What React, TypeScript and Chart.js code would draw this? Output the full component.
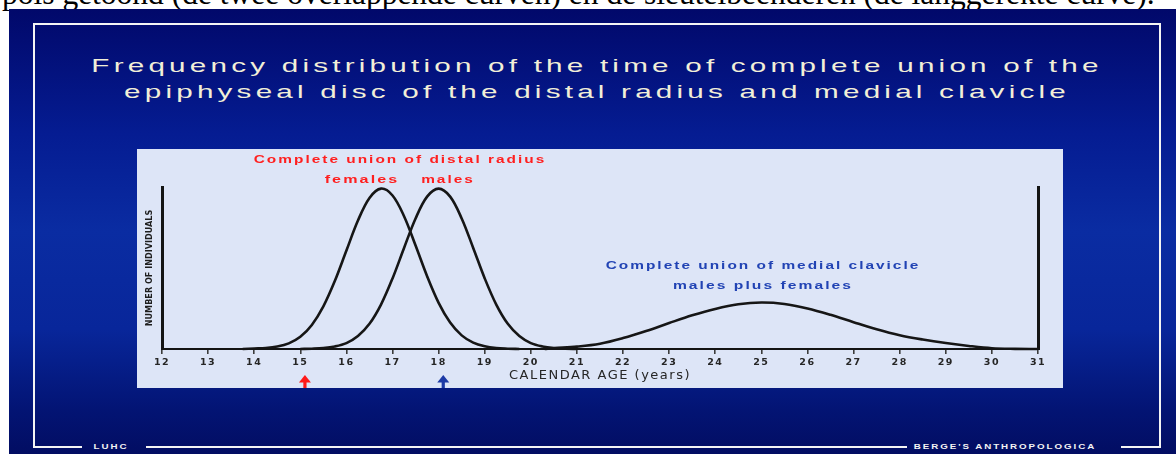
import React, { useEffect, useRef } from 'react';
import { Chart, registerables } from 'chart.js';

Chart.register(...registerables);

// ---- data ----
const femaleAges = [13.75, 14, 14.25, 14.5, 14.75, 15, 15.25, 15.5, 15.75, 16, 16.25, 16.5, 16.75, 17, 17.25, 17.5, 17.75, 18, 18.25, 18.5, 18.75, 19, 19.25, 19.5, 19.75];
const femaleCounts = [0, 0.3, 0.6, 1.5, 3.5, 7.6, 15.0, 26.6, 42.5, 61.4, 80.1, 94.2, 100, 95.7, 82.8, 64.5, 45.4, 28.8, 16.5, 8.5, 4.0, 1.7, 0.6, 0.2, 0];

const maleAges = [15, 15.25, 15.5, 15.75, 16, 16.25, 16.5, 16.75, 17, 17.25, 17.5, 17.75, 18, 18.25, 18.5, 18.75, 19, 19.25, 19.5, 19.75, 20, 20.25, 20.5, 20.75, 21];
const maleCounts = [0, 0.2, 0.6, 1.6, 3.7, 8.1, 15.7, 27.7, 44.0, 63.0, 81.4, 95.0, 100, 95.0, 81.4, 63.0, 44.0, 27.7, 15.7, 8.1, 3.7, 1.6, 0.6, 0.2, 0];

const clavicleAges = [20.3, 20.5, 21, 21.5, 22, 22.5, 23, 23.5, 24, 24.5, 25, 25.5, 26, 26.5, 27, 27.5, 28, 28.5, 29, 29.5, 30, 30.5, 31];
const clavicleCounts = [0, 0.5, 1.5, 3.3, 6.8, 11.2, 16.2, 21.0, 25.0, 27.9, 29.0, 28.1, 25.3, 21.3, 16.7, 12.3, 8.6, 5.9, 3.7, 1.9, 0.5, 0.1, 0];

const ageMin = 12;
const ageMax = 31;
const ageStep = 1;

const arrowAges = [15.1, 18.1];
const arrowColors = ['#ff1a1a', '#1d3aa6'];

const pageText = 'pols getoond (de twee overlappende curven) en de sleutelbeenderen (de langgerekte curve).';
const titleLines = [
  'Frequency distribution of the time of complete union of the',
  'epiphyseal disc of the distal radius and medial clavicle',
];
const xTitle = 'CALENDAR AGE (years)';
const yTitle = 'NUMBER OF INDIVIDUALS';
const radiusNote = 'Complete union of distal radius';
const femalesNote = 'females';
const malesNote = 'males';
const clavicleNote1 = 'Complete union of medial clavicle';
const clavicleNote2 = 'males plus females';
const footLeft = 'LUHC';
const footRight = "BERGE'S ANTHROPOLOGICA";

const toPoints = (xs: number[], ys: number[]) => xs.map((x, i) => ({ x, y: ys[i] }));

function Label(props: { text: string; cx: number; cy: number; color: string; size: number; ls: number; sx: number; weight?: any; family?: string }) {
  const { text, cx, cy, color, size, ls, sx, weight, family } = props;
  return (
    <div
      style={{
        position: 'absolute',
        left: cx,
        top: cy,
        transform: `translate(-50%, -50%) scaleX(${sx})`,
        whiteSpace: 'nowrap',
        color,
        fontFamily: family || "'Liberation Sans', Arial, sans-serif",
        fontSize: size,
        fontWeight: weight || 'normal',
        letterSpacing: ls,
        lineHeight: 1,
      }}
    >
      {text}
    </div>
  );
}

const line = (left: number, top: number, width: number, height: number) => (
  <div style={{ position: 'absolute', left, top, width, height, background: '#f4f4f4' }} />
);

export default function App() {
  const ref = useRef<HTMLCanvasElement | null>(null);

  useEffect(() => {
    if (!ref.current) return;
    const arrowPlugin = {
      id: 'arrowsAndSpacing',
      beforeDraw(chart: any) {
        chart.ctx.letterSpacing = '0px';
      },
      afterDatasetsDraw(chart: any) {
        chart.ctx.letterSpacing = '1.5px';
      },
      afterDraw(chart: any) {
        const ctx = chart.ctx;
        const xs = chart.scales.x;
        ctx.save();
        arrowAges.forEach((age, i) => {
          const px = xs.getPixelForValue(age);
          ctx.fillStyle = arrowColors[i];
          ctx.beginPath();
          ctx.moveTo(px, 226);
          ctx.lineTo(px + 6, 233.6);
          ctx.lineTo(px - 6, 233.6);
          ctx.closePath();
          ctx.fill();
          ctx.fillRect(px - 1.6, 233, 3.2, 7);
        });
        ctx.restore();
        ctx.letterSpacing = '0px';
      },
    };

    const common = { borderColor: '#161616', borderWidth: 2.6, pointRadius: 0, tension: 0.35, fill: false, clip: false as any };
    const chart = new Chart(ref.current, {
      type: 'line',
      data: {
        datasets: [
          { label: 'Distal radius – females', data: toPoints(femaleAges, femaleCounts), ...common },
          { label: 'Distal radius – males', data: toPoints(maleAges, maleCounts), ...common },
          { label: 'Medial clavicle – males plus females', data: toPoints(clavicleAges, clavicleCounts), ...common },
        ],
      },
      options: {
        animation: false,
        responsive: true,
        maintainAspectRatio: false,
        layout: { padding: { left: 0, right: 25, top: 38, bottom: 0 } },
        plugins: { legend: { display: false }, tooltip: { enabled: false }, title: { display: false } },
        scales: {
          x: {
            type: 'linear',
            min: ageMin,
            max: ageMax,
            ticks: {
              stepSize: ageStep,
              autoSkip: false,
              maxRotation: 0,
              color: '#262626',
              font: { family: "'DejaVu Sans', sans-serif", size: 9.5, weight: 'bold' },
              padding: 3,
              z: 1,
            },
            grid: { drawOnChartArea: false, drawTicks: true, tickLength: 5, color: '#3c3c3c', lineWidth: 1.6, z: 1 },
            border: { display: true, color: '#141414', width: 2, z: 1 },
            title: {
              display: true,
              text: xTitle,
              color: '#262626',
              font: { family: "'DejaVu Sans', sans-serif", size: 13 },
              padding: { top: 0, bottom: 5 },
            },
            afterFit: (s: any) => {
              s.height = 39;
            },
          } as any,
          y: {
            position: 'left',
            min: 0,
            max: 101,
            ticks: { display: false },
            grid: { display: false },
            border: { display: true, color: '#141414', width: 3 },
            title: {
              display: true,
              text: yTitle,
              color: '#1e1e1e',
              font: { family: "'Liberation Sans Narrow', 'DejaVu Sans Condensed', 'Liberation Sans', sans-serif", size: 9, weight: 'bold' },
              padding: { top: 7, bottom: 0 },
            },
            afterFit: (s: any) => {
              s.width = 25;
            },
          } as any,
          yRight: {
            position: 'right',
            min: 0,
            max: 101,
            ticks: { display: false },
            grid: { display: false },
            border: { display: true, color: '#141414', width: 3 },
            afterFit: (s: any) => {
              s.width = 0;
            },
          } as any,
        },
      },
      plugins: [arrowPlugin],
    });
    return () => chart.destroy();
  }, []);

  return (
    <div style={{ position: 'fixed', left: 0, top: 0, width: 1176, height: 454, overflow: 'hidden', background: '#ffffff' }}>
      <div
        style={{
          position: 'absolute',
          left: 2,
          top: -22.4,
          fontFamily: "'Liberation Serif', 'Times New Roman', serif",
          fontSize: 31.5,
          lineHeight: '31.5px',
          whiteSpace: 'nowrap',
          color: '#000',
        }}
      >
        {pageText}
      </div>
      <div
        style={{
          position: 'absolute',
          left: 9,
          top: 9,
          width: 1167,
          height: 445,
          background: 'linear-gradient(180deg, #01086a 0%, #051c92 28%, #0a2ca2 50%, #08269a 72%, #031474 90%, #020d62 100%)',
          overflow: 'hidden',
        }}
      >
        {line(24, 13.5, 1128, 2)}
        {line(23.5, 13.5, 2, 425.5)}
        {line(1149.5, 13.5, 2.5, 425.5)}
        {line(24, 437, 49, 2)}
        {line(137, 437, 761, 2)}
        {line(1112, 437, 40, 2)}
        <Label text={footLeft} cx={102} cy={438} color="#f4f4f4" size={7.5} ls={1.5} sx={1.3} weight="bold" />
        <Label text={footRight} cx={996} cy={438} color="#f4f4f4" size={7.5} ls={1.5} sx={1.3} weight="bold" />

        <div
          style={{
            position: 'absolute',
            left: 0,
            top: 43.8,
            width: 1176,
            textAlign: 'center',
            fontFamily: "'Liberation Sans', Arial, sans-serif",
            fontSize: 19,
            lineHeight: '26.6px',
            letterSpacing: '2.7px',
            color: '#f2efd8',
            transform: 'scaleX(1.56)',
            whiteSpace: 'nowrap',
          }}
        >
          <div>{titleLines[0]}</div>
          <div>{titleLines[1]}</div>
        </div>

        <div style={{ position: 'absolute', left: 128, top: 140, width: 926, height: 239, background: '#dde5f7' }}>
          <div style={{ position: 'absolute', left: 0, top: 0, width: 926, height: 239 }}>
            <canvas ref={ref} />
          </div>
          <Label text={radiusNote} cx={263} cy={11} color="#ff1f1f" size={11.5} ls={1.5} sx={1.34} weight="bold" />
          <Label text={femalesNote} cx={225} cy={30.5} color="#ff1f1f" size={11.5} ls={1.5} sx={1.4} weight="bold" />
          <Label text={malesNote} cx={310.5} cy={30.5} color="#ff1f1f" size={11.5} ls={1.5} sx={1.34} weight="bold" />
          <Label text={clavicleNote1} cx={625.5} cy={117} color="#2143b4" size={11.5} ls={1.5} sx={1.34} weight="bold" />
          <Label text={clavicleNote2} cx={626} cy={137} color="#2143b4" size={11.5} ls={1.5} sx={1.36} weight="bold" />
        </div>
      </div>
    </div>
  );
}
